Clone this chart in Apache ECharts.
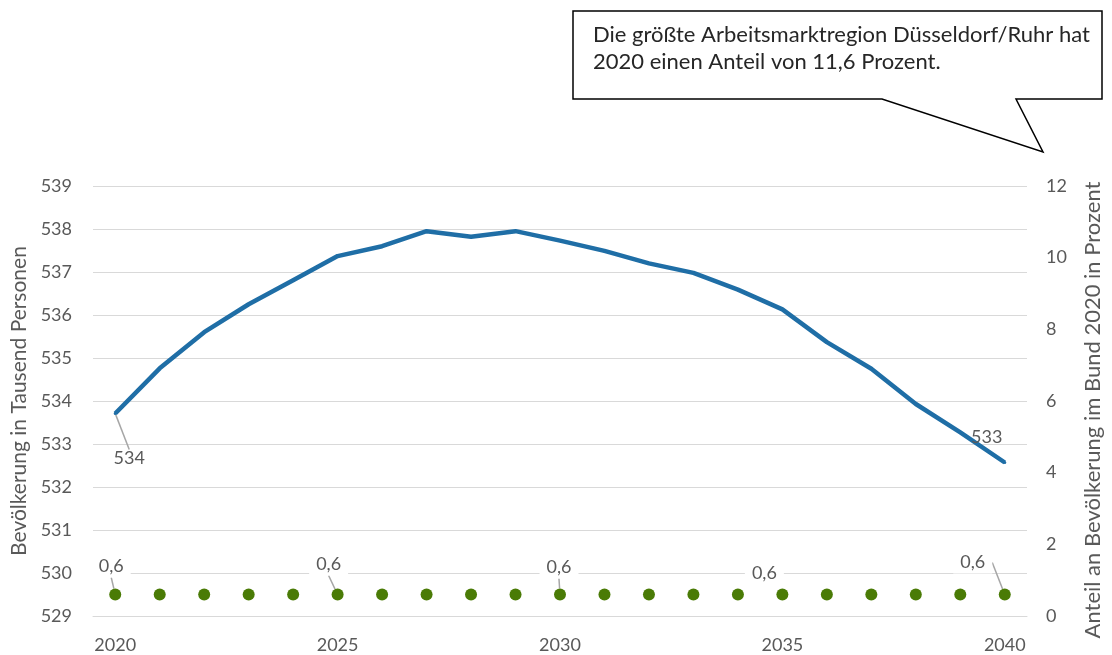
<!DOCTYPE html>
<html>
<head>
<meta charset="utf-8">
<script src="https://cdn.jsdelivr.net/npm/echarts@6/dist/echarts.min.js"></script>
<style>
html,body{margin:0;padding:0;background:#fff;}
#chart{width:1112px;height:655px;}
</style>
</head>
<body>
<div id="chart"></div>
<script>
const years = ['2020','2021','2022','2023','2024','2025','2026','2027','2028','2029','2030',
               '2031','2032','2033','2034','2035','2036','2037','2038','2039','2040'];
const population = [533.71, 534.76, 535.60, 536.25, 536.81, 537.37, 537.60, 537.95, 537.82, 537.95, 537.73,
                    537.49, 537.20, 536.98, 536.59, 536.13, 535.37, 534.75, 533.93, 533.27, 532.57];
const share = [0.6, 0.6, 0.6, 0.6, 0.6, 0.6, 0.6, 0.6, 0.6, 0.6, 0.6,
               0.6, 0.6, 0.6, 0.6, 0.6, 0.6, 0.6, 0.6, 0.6, 0.6];
const populationLabelIdx = [0, 20];
const shareLabelIdx = [0, 5, 10, 15, 20];
const leftAxisTicks = [529, 530, 531, 532, 533, 534, 535, 536, 537, 538, 539];
const rightAxisTicks = [0, 2, 4, 6, 8, 10, 12];
const leftTitle = 'Bevölkerung in Tausend Personen';
const rightTitle = 'Anteil an Bevölkerung im Bund 2020 in Prozent';
const calloutLines = ['Die größte Arbeitsmarktregion Düsseldorf/Ruhr hat', '2020 einen Anteil von 11,6 Prozent.'];

const FONT = 'Lato, "Noto Sans", sans-serif';
const GREY = '#595959';
const GRID = '#d9d9d9';
const LEADER = '#a6a6a6';

// label offsets and leader visibility (styling only)
const popOffsets = {0: [14, 45], 20: [-18, -25]};
const popLeader = {0: true, 20: false};
const shareOffsets = {0: [-4, -28], 5: [-9, -30], 10: [-1, -27], 15: [-18, -21], 20: [-32, -32]};
const shareLeader = {0: true, 5: true, 10: true, 15: false, 20: true};

const fmtDe = v => String(v).replace('.', ',');

const chart = echarts.init(document.getElementById('chart'), null, {renderer: 'canvas'});
const option = {
  animation: false,
  backgroundColor: '#fff',
  textStyle: {fontFamily: FONT},
  grid: {left: 93, right: 80, top: 186, bottom: 39, containLabel: false},
  xAxis: {
    type: 'category',
    data: years,
    boundaryGap: true,
    axisLine: {show: true, lineStyle: {color: GRID, width: 1}},
    axisTick: {show: false},
    axisLabel: {interval: 4, color: GREY, fontSize: 18, fontFamily: FONT, margin: 20},
    splitLine: {show: false}
  },
  yAxis: [{
    type: 'value',
    min: leftAxisTicks[0],
    max: leftAxisTicks[leftAxisTicks.length - 1],
    interval: 1,
    axisLine: {show: false},
    axisTick: {show: false},
    axisLabel: {color: GREY, fontSize: 18, fontFamily: FONT, margin: 21},
    splitLine: {show: true, lineStyle: {color: GRID, width: 1}},
    name: leftTitle,
    nameLocation: 'middle',
    nameRotate: 90,
    nameGap: 60,
    nameTextStyle: {color: GREY, fontSize: 21, fontFamily: FONT}
  }, {
    type: 'value',
    position: 'right',
    min: rightAxisTicks[0],
    max: rightAxisTicks[rightAxisTicks.length - 1],
    interval: 2,
    axisLine: {show: false},
    axisTick: {show: false},
    axisLabel: {color: GREY, fontSize: 18, fontFamily: FONT, margin: 19},
    splitLine: {show: false},
    name: rightTitle,
    nameLocation: 'middle',
    nameRotate: 90,
    nameGap: 55,
    nameTextStyle: {color: GREY, fontSize: 22, fontFamily: FONT, padding: [0, 18, 0, 0]}
  }],
  series: [{
    type: 'line',
    yAxisIndex: 0,
    data: population.map((v, i) => populationLabelIdx.includes(i)
      ? {value: v, label: {show: true}, labelLine: {show: popLeader[i]}} : v),
    symbol: 'circle',
    symbolSize: 3,
    showSymbol: true,
    itemStyle: {color: '#1f6ea6'},
    lineStyle: {color: '#1f6ea6', width: 4.5},
    label: {
      show: false,
      position: 'inside',
      formatter: p => String(Math.round(p.value)),
      color: GREY, fontSize: 18, fontFamily: FONT
    },
    labelLayout: p => {
      const o = popOffsets[p.dataIndex] || [0, 0];
      return {dx: o[0], dy: o[1]};
    },
    labelLine: {show: true, lineStyle: {color: LEADER, width: 1.5}},
    z: 3
  }, {
    type: 'scatter',
    yAxisIndex: 1,
    data: share.map((v, i) => shareLabelIdx.includes(i)
      ? {value: v, label: {show: true}, labelLine: {show: shareLeader[i]}} : v),
    symbol: 'circle',
    symbolSize: 12,
    itemStyle: {color: '#4a7b06', opacity: 1},
    label: {
      show: false,
      position: 'inside',
      formatter: p => fmtDe(p.value),
      color: GREY, fontSize: 18, fontFamily: FONT,
      backgroundColor: '#fff',
      padding: [2, 7]
    },
    labelLayout: p => {
      const o = shareOffsets[p.dataIndex] || [0, 0];
      return {dx: o[0], dy: o[1]};
    },
    labelLine: {show: true, lineStyle: {color: LEADER, width: 1.5}},
    z: 4
  }],
  graphic: [{
    type: 'polygon',
    shape: {points: [[573, 11], [1102, 11], [1102, 99], [1016, 99], [1043, 152], [882, 99], [573, 99]]},
    style: {fill: '#fff', stroke: '#000', lineWidth: 1.5},
    z: 10
  }, {
    type: 'text',
    left: 593,
    top: 22,
    style: {
      text: calloutLines.join('\n'),
      fill: '#262626',
      font: '22px ' + FONT,
      lineHeight: 26.5
    },
    z: 11
  }]
};
chart.setOption(option);
</script>
</body>
</html>
